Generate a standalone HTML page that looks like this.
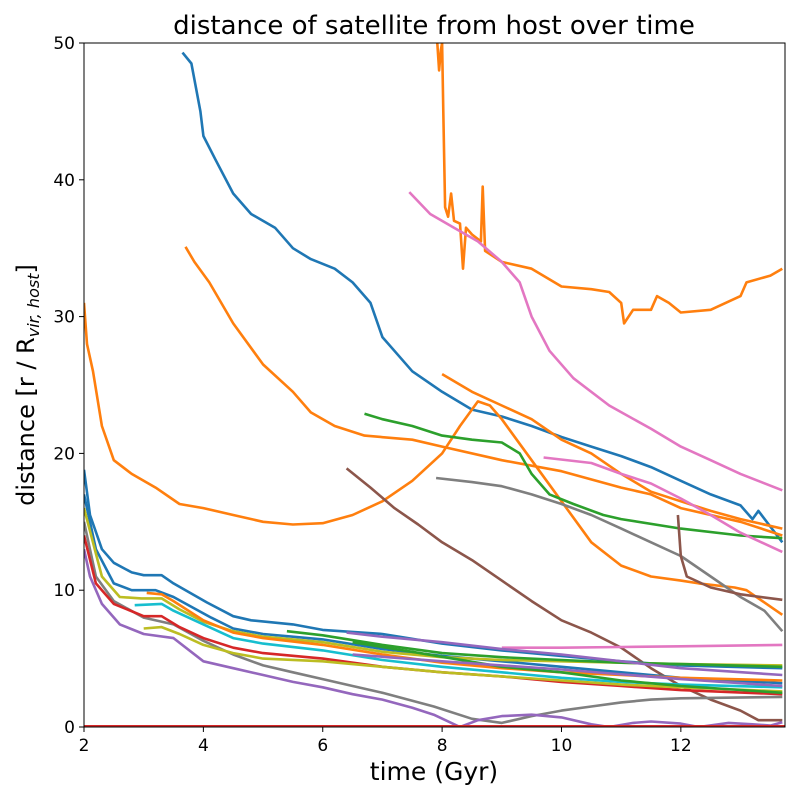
<!DOCTYPE html>
<html><head><meta charset="utf-8"><style>
body{margin:0;background:#fff}
svg text{font-family:"DejaVu Sans","Liberation Sans",sans-serif}
</style></head><body>
<svg id="chart" width="800" height="800" xmlns="http://www.w3.org/2000/svg">
<rect width="800" height="800" fill="#fff"/>
<text x="434" y="34" font-size="26" text-anchor="middle">distance of satellite from host over time</text>
<g id="plot"></g>
<g id="axes"></g>
<text x="434" y="780" font-size="25" text-anchor="middle">time (Gyr)</text>
<text transform="translate(34,385) rotate(-90)" font-size="24" text-anchor="middle">distance [r / R<tspan font-size="16" dy="5" font-style="italic">vir, host</tspan><tspan dy="-5">]</tspan></text>
</svg>
<script>
const xTicks=[2,4,6,8,10,12];
const yTicks=[0,10,20,30,40,50];
const seriesNames=["blue-top","orange-far","pink-top","orange-2","orange-3","orange-4","green-1","pink-2","gray-upper","brown-1","brown-2","pink-low","gray-low","purple-low","blue-b1","blue-b2","olive-b1","orange-b","cyan-b","red-b","olive-b2","green-b1","green-b2","purple-b1","purple-b2","red-zero"];
const seriesColors=["#1f77b4","#ff7f0e","#e377c2","#ff7f0e","#ff7f0e","#ff7f0e","#2ca02c","#e377c2","#7f7f7f","#8c564b","#8c564b","#e377c2","#7f7f7f","#9467bd","#1f77b4","#1f77b4","#bcbd22","#ff7f0e","#17becf","#d62728","#bcbd22","#2ca02c","#2ca02c","#9467bd","#9467bd","#d62728"];
const seriesData=[
[[3.65,49.3],[3.8,48.5],[3.95,45],[4.0,43.2],[4.2,41.5],[4.5,39],[4.8,37.5],[5.2,36.5],[5.5,35],[5.8,34.2],[6.2,33.5],[6.5,32.5],[6.8,31],[7.0,28.5],[7.2,27.5],[7.5,26],[8,24.5],[8.5,23.2],[9,22.7],[9.5,22],[10,21.2],[10.5,20.5],[11,19.8],[11.5,19],[12,18],[12.5,17],[13,16.2],[13.2,15.2],[13.3,15.8],[13.7,13.5]],
[[7.92,50],[7.95,48],[7.98,49.5],[8.0,50],[8.02,45],[8.05,38],[8.1,37.3],[8.15,39],[8.2,37],[8.3,36.8],[8.35,33.5],[8.4,36.5],[8.5,36],[8.65,35.5],[8.68,39.5],[8.72,34.8],[9,34],[9.5,33.5],[10,32.2],[10.5,32],[10.8,31.8],[11,31],[11.05,29.5],[11.2,30.5],[11.5,30.5],[11.6,31.5],[11.8,31],[12,30.3],[12.5,30.5],[13,31.5],[13.1,32.5],[13.5,33],[13.7,33.5]],
[[7.45,39.1],[7.8,37.5],[8.2,36.5],[8.6,35.5],[9,34],[9.3,32.5],[9.5,30],[9.8,27.5],[10.2,25.5],[10.8,23.5],[11.5,21.8],[12,20.5],[12.5,19.5],[13,18.5],[13.7,17.3]],
[[3.7,35.1],[3.85,34],[4.1,32.5],[4.5,29.5],[5,26.5],[5.5,24.5],[5.8,23],[6.2,22],[6.7,21.3],[7.5,21],[8,20.5],[9,19.5],[10,18.7],[11,17.5],[11.5,17],[12,16],[12.5,15.5],[13,15],[13.7,14]],
[[2,31],[2.05,28],[2.15,26],[2.3,22],[2.5,19.5],[2.8,18.5],[3.2,17.5],[3.6,16.3],[4,16],[4.5,15.5],[5,15],[5.5,14.8],[6,14.9],[6.5,15.5],[7,16.5],[7.5,18],[8,20],[8.3,22],[8.6,23.8],[8.8,23.5],[9.0,22.5],[9.5,19.5],[10,16.5],[10.5,13.5],[11,11.8],[11.5,11],[12,10.7],[12.3,10.5],[12.9,10.2],[13.1,10.0],[13.7,8.2]],
[[8,25.8],[8.5,24.5],[9,23.5],[9.5,22.5],[10,21],[10.5,20],[11,18.5],[11.5,17.2],[12,16.5],[12.5,15.8],[13,15.2],[13.7,14.5]],
[[6.7,22.9],[7,22.5],[7.5,22],[8,21.3],[8.5,21],[9,20.8],[9.3,20],[9.5,18.5],[9.8,17],[10.2,16.3],[10.7,15.5],[11,15.2],[12,14.5],[13,14],[13.7,13.8]],
[[9.7,19.7],[10.5,19.3],[11,18.5],[11.5,17.8],[12,16.7],[12.5,15.5],[13,14.2],[13.7,12.8]],
[[7.9,18.2],[8.5,17.9],[9,17.6],[9.5,17],[10,16.3],[10.5,15.5],[11,14.5],[11.5,13.5],[12,12.5],[12.5,11],[13,9.5],[13.4,8.5],[13.7,7]],
[[6.4,18.9],[6.8,17.5],[7.2,16],[7.6,14.8],[8,13.5],[8.5,12.2],[9,10.7],[9.5,9.2],[10,7.8],[10.5,6.9],[11,5.8],[11.5,4.3],[12,3.0],[12.5,2.0],[13,1.2],[13.3,0.5],[13.7,0.5]],
[[11.95,15.5],[12.0,12.5],[12.1,11],[12.5,10.2],[13,9.7],[13.7,9.3]],
[[9,5.8],[10,5.8],[11,5.85],[12,5.9],[13.7,6.0]],
[[2,15],[2.2,11],[2.5,9.2],[3,8],[3.5,7.5],[4,6.3],[4.5,5.3],[5,4.5],[5.5,4],[6,3.5],[6.5,3],[7,2.5],[7.86,1.5],[8.5,0.6],[9,0.3],[9.5,0.8],[10,1.2],[10.5,1.5],[11,1.8],[11.5,2],[12,2.1],[13.7,2.2]],
[[2,13],[2.1,11],[2.3,9],[2.6,7.5],[3,6.8],[3.5,6.5],[4,4.8],[4.5,4.3],[5,3.8],[5.5,3.3],[6,2.9],[6.5,2.4],[7,2.0],[7.5,1.4],[7.86,0.9],[8.3,0],[8.6,0.5],[9,0.8],[9.5,0.9],[10,0.7],[10.5,0.2],[10.8,0],[11.2,0.3],[11.5,0.4],[12,0.25],[12.3,0],[12.8,0.3],[13.2,0.2],[13.5,0.1],[13.7,0.35]],
[[2,18.8],[2.1,15.5],[2.3,13],[2.5,12],[2.8,11.3],[3.0,11.1],[3.3,11.1],[3.5,10.5],[4.06,9.1],[4.5,8.1],[4.8,7.8],[5.5,7.5],[6,7.1],[7,6.8],[8,6.1],[9,5.6],[10,5.2],[11,4.8],[12,4.5],[13.7,4.3]],
[[2,17],[2.2,13],[2.5,10.5],[2.8,10.0],[3.2,10.0],[3.5,9.5],[4.13,8.0],[4.5,7.2],[5,6.8],[6,6.4],[7,5.7],[8,5.2],[9,4.8],[10,4.4],[11,4.0],[12,3.6],[13.7,3.2]],
[[2,16],[2.3,11],[2.6,9.5],[2.96,9.4],[3.3,9.4],[3.6,8.6],[4,7.7],[4.5,7],[5,6.6],[6,6.2],[7,5.5],[8,5.1],[9,4.9],[10,4.8],[11,4.7],[12,4.6],[13.7,4.5]],
[[3.05,9.8],[3.3,9.7],[3.5,9.2],[4,7.8],[4.5,6.9],[5,6.5],[6,6.0],[7,5.3],[8,4.7],[9,4.3],[10,4.0],[11,3.8],[12,3.6],[13.7,3.4]],
[[2.85,8.9],[3.3,9.0],[3.5,8.5],[4,7.5],[4.5,6.5],[5,6.1],[6,5.6],[7,4.9],[8,4.4],[9,4.0],[10,3.6],[11,3.3],[12,3.1],[13.7,2.9]],
[[2,14],[2.2,10.5],[2.5,9],[3,8.1],[3.3,8.1],[3.6,7.3],[4,6.5],[4.5,5.8],[5,5.4],[6,5.0],[7,4.4],[8,4.0],[9,3.7],[10,3.3],[11,3.0],[12,2.7],[13.7,2.4]],
[[3.0,7.2],[3.3,7.3],[3.6,6.8],[4,6.0],[4.5,5.4],[5,5.0],[6,4.8],[7,4.4],[8,4.0],[9,3.7],[10,3.4],[11,3.1],[12,2.9],[13.7,2.6]],
[[5.4,7.0],[6,6.7],[7,6.0],[8,5.4],[9,5.1],[10,4.9],[11,4.7],[12,4.6],[13.7,4.4]],
[[6.5,6.2],[7.5,5.5],[9,4.4],[10,4.0],[11,3.4],[12,3.0],[13.7,2.5]],
[[6.4,6.9],[7,6.6],[8,6.2],[9,5.7],[10,5.3],[11,4.8],[12,4.3],[13.7,3.8]],
[[6.5,5.3],[8,4.8],[10,4.2],[12,3.5],[13.7,3.0]],
[[2,0.05],[13.75,0.05]]
];
const X0=84,X1=785,Y0=727,Y1=43,XMIN=2,XMAX=13.745,YMIN=0,YMAX=50;
function sx(v){return X0+(v-XMIN)/(XMAX-XMIN)*(X1-X0);}
function sy(v){return Y0-(v-YMIN)/(YMAX-YMIN)*(Y0-Y1);}
const NS="http://www.w3.org/2000/svg";
const plot=document.getElementById('plot');
const axes=document.getElementById('axes');
const cp=document.createElementNS(NS,'clipPath');cp.setAttribute('id','clip');
const cr=document.createElementNS(NS,'rect');cr.setAttribute('x',X0);cr.setAttribute('y',Y1);cr.setAttribute('width',X1-X0);cr.setAttribute('height',Y0-Y1);
cp.appendChild(cr);document.getElementById('chart').appendChild(cp);
plot.setAttribute('clip-path','url(#clip)');
seriesData.forEach((pts,i)=>{
  const p=document.createElementNS(NS,'polyline');
  p.setAttribute('points',pts.map(d=>sx(d[0]).toFixed(1)+','+sy(d[1]).toFixed(1)).join(' '));
  p.setAttribute('fill','none');p.setAttribute('stroke',seriesColors[i]);p.setAttribute('stroke-width','2.6');
  p.setAttribute('stroke-linejoin','round');
  
  
  plot.appendChild(p);
});
const frame=document.createElementNS(NS,'rect');
frame.setAttribute('x',X0);frame.setAttribute('y',Y1);frame.setAttribute('width',X1-X0);frame.setAttribute('height',Y0-Y1);
frame.setAttribute('fill','none');frame.setAttribute('stroke','#000');frame.setAttribute('stroke-width','1');


axes.appendChild(frame);
xTicks.forEach(v=>{
  const l=document.createElementNS(NS,'line');
  l.setAttribute('x1',sx(v));l.setAttribute('x2',sx(v));l.setAttribute('y1',Y0);l.setAttribute('y2',Y0+5);l.setAttribute('stroke','#000');
  
  
  axes.appendChild(l);
  const t=document.createElementNS(NS,'text');
  t.setAttribute('x',sx(v));t.setAttribute('y',Y0+24);t.setAttribute('font-size','17');t.setAttribute('text-anchor','middle');t.textContent=v;
  
  
  axes.appendChild(t);
});
yTicks.forEach(v=>{
  const l=document.createElementNS(NS,'line');
  l.setAttribute('x1',X0-5);l.setAttribute('x2',X0);l.setAttribute('y1',sy(v));l.setAttribute('y2',sy(v));l.setAttribute('stroke','#000');
  
  
  axes.appendChild(l);
  const t=document.createElementNS(NS,'text');
  t.setAttribute('x',X0-9);t.setAttribute('y',sy(v)+6);t.setAttribute('font-size','17');t.setAttribute('text-anchor','end');t.textContent=v;
  
  
  axes.appendChild(t);
});
</script>
</body></html>
